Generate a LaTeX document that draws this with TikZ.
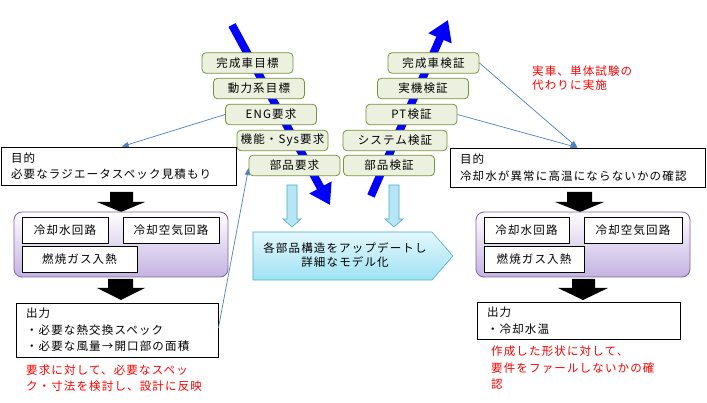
\documentclass[tikz,border=0pt]{standalone}
\usepackage{fontspec}
\setmainfont{Noto Sans CJK JP}[LetterSpace=10]
\usetikzlibrary{arrows.meta,calc}
\definecolor{gfill}{HTML}{EBF1DE}
\definecolor{gdraw}{HTML}{77933C}
\definecolor{pdraw}{HTML}{8064A2}
\definecolor{pbot}{HTML}{C4B2E2}
\definecolor{cdraw}{HTML}{4BACC6}
\definecolor{cfill}{HTML}{B6E6F5}
\definecolor{ctop}{HTML}{E3F7FC}
\definecolor{cbot}{HTML}{9FE2F4}
\definecolor{connblue}{HTML}{4F81BD}
\definecolor{vblue}{HTML}{0000FF}
\begin{document}
\begin{tikzpicture}[x=1pt,y=-1pt,
  every node/.style={font=\fontsize{11.5}{16.5}\selectfont, inner sep=0pt},
  gbox/.style={draw=gdraw, fill=gfill, rounded corners=4pt, line width=0.8pt, minimum width=91pt, minimum height=20.5pt},
  wbox/.style={draw=black, fill=white, line width=0.8pt, align=left, inner xsep=10pt},
  ibox/.style={draw=black, fill=white, line width=0.8pt, minimum height=26pt},
  pbox/.style={draw=pdraw, top color=white, bottom color=pbot, rounded corners=8pt, line width=0.8pt},
  vline/.style={vblue, line width=8pt, -{Triangle[width=24pt,length=20pt]}},
  connarrow/.style={draw=connblue, line width=0.7pt, -{Triangle[length=7pt,width=5pt]}},
  note/.style={text=red, align=left, anchor=west},
  blk/.style={fill=black},
  lblue/.style={fill=cfill, draw=cdraw, line width=0.6pt}
]
\useasboundingbox (0,0) rectangle (707,403);
\fill[white] (0,0) rectangle (707,403);

% big V arrows
\coordinate (vLs) at (232,25);
\coordinate (vLe) at (330,205);
\coordinate (vRs) at (371,196);
\coordinate (vRe) at (448,20);
\draw[vline] (vLs) -- (vLe);
\draw[vline] (vRs) -- (vRe);

% left column
\node[gbox] (kanL) at (247.5,63) {完成車目標};
\node[gbox] (doL) at (259,88.5) {動力系目標};
\node[gbox] (eng) at (271,114.5) {ENG要求};
\node[gbox] (kino) at (282.5,140.5) {機能・Sys要求};
\node[gbox] (buhin) at (294.5,165.5) {部品要求};
% right column
\node[gbox] (kanR) at (433.5,63) {完成車検証};
\node[gbox] (jikki) at (423,88.5) {実機検証};
\node[gbox] (pt) at (411.5,114.5) {PT検証};
\node[gbox, minimum width=104pt] (sys) at (395,140.5) {システム検証};
\node[gbox] (bukR) at (389,165.5) {部品検証};

% left flow
\node[wbox, text width=215pt, minimum height=38pt] (goalL) at (118.5,166) {目的\\必要なラジエータスペック見積もり};
\fill[blk] (110,192)--(133,192)--(133,202)--(145,202)--(121,212)--(97,202)--(110,202)--cycle;
\node[pbox, minimum width=214pt, minimum height=65pt] (circL) at (121,244.5) {};
\node[ibox, minimum width=86pt] (cwL) at (65,230) {冷却水回路};
\node[ibox, minimum width=96pt] (caL) at (171,230) {冷却空気回路};
\node[ibox, minimum width=115pt] (gasL) at (79.5,259) {燃焼ガス入熱};
\fill[blk] (108,279)--(133,279)--(133,288)--(145,288)--(121,300)--(97,288)--(108,288)--cycle;
\node[wbox, text width=182pt, minimum height=54pt] (outL) at (117,330) {出力\\・必要な熱交換スペック\\・必要な風量→開口部の面積};
\node[note] (noteL) at (26,378) {要求に対して、必要なスペッ\\ク・寸法を検討し、設計に反映};

% right flow
\node[wbox, text width=235pt, minimum height=39pt] (goalR) at (577.5,167.5) {目的\\冷却水が異常に高温にならないかの確認};
\fill[blk] (567,192)--(592,192)--(592,202)--(604,202)--(580,212)--(555,202)--(567,202)--cycle;
\node[pbox, minimum width=214pt, minimum height=65pt] (circR) at (583,244.5) {};
\node[ibox, minimum width=85pt] (cwR) at (526.5,230) {冷却水回路};
\node[ibox, minimum width=98pt] (caR) at (633,230) {冷却空気回路};
\node[ibox, minimum width=100pt] (gasR) at (534,259) {燃焼ガス入熱};
\fill[blk] (572,279)--(595,279)--(595,288)--(608,288)--(583,300)--(558,288)--(572,288)--cycle;
\node[wbox, text width=183pt, minimum height=37pt] (outR) at (578.5,320.5) {出力\\・冷却水温};
\node[note] (noteR) at (491,368) {作成した形状に対して、\\要件をファールしないかの確\\認};
\node[note, font=\fontsize{11.5}{13.5}\selectfont] (noteTR) at (532,78) {実車、単体試験の\\代わりに実施};

% middle
\path[lblue] (287,185)--(297,185)--(297,219)--(301,219)--(292,227)--(283,219)--(287,219)--cycle;
\path[lblue] (389,185)--(399,185)--(399,219)--(403,219)--(394,227)--(385,219)--(389,219)--cycle;
\path[draw=cdraw, line width=0.6pt, top color=ctop, bottom color=cbot] (253,232)--(432,232)--(453,256)--(432,280)--(253,280)--cycle;
\node[align=center, font=\fontsize{11.5}{13.5}\selectfont] (model) at (345,255) {各部品構造をアップデートし\\詳細なモデル化};

% thin connectors
\draw[connarrow] (eng.west) -- ([xshift=121pt]goalL.north west);
\draw[connarrow] ([yshift=2pt]outL.east) -- ([yshift=-2.5pt]buhin.west);
\draw[connarrow] (kanR.east) -- (goalR.north);
\draw[connarrow] (pt.east) -- (goalR.north);
\end{tikzpicture}
\end{document}
